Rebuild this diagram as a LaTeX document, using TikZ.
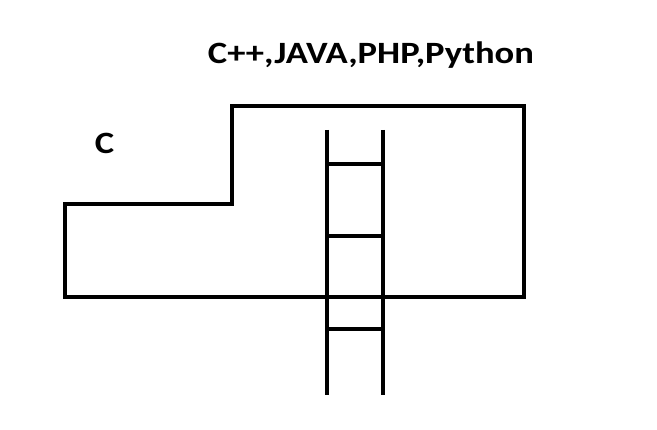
\documentclass[tikz,border=0pt]{standalone}
\usepackage{fontspec}
\setmainfont{Carlito}
\begin{document}
\begin{tikzpicture}[x=1pt,y=-1pt,
    wall/.style={line width=4pt},
    label/.style={font=\bfseries\fontsize{31}{35}\selectfont, anchor=base, inner sep=0pt, xscale=1.18}]
  \useasboundingbox (0,0) rectangle (657,430);

  % Outline
  \draw[wall] (65,204) -- (232,204) -- (232,106) -- (524,106) -- (524,297) -- (65,297) -- cycle;

  % Ladder rails
  \draw[wall] (327,130) -- (327,395);
  \draw[wall] (383,130) -- (383,395);

  % Ladder rungs
  \foreach \y in {164,236,329}
    \draw[wall] (327,\y) -- (383,\y);

  % Labels
  \node[label, transform shape] (langs) at (371,64) {C++,JAVA,PHP,Python};
  \node[label, transform shape] (clang) at (104.5,153.5) {C};

\end{tikzpicture}
\end{document}
